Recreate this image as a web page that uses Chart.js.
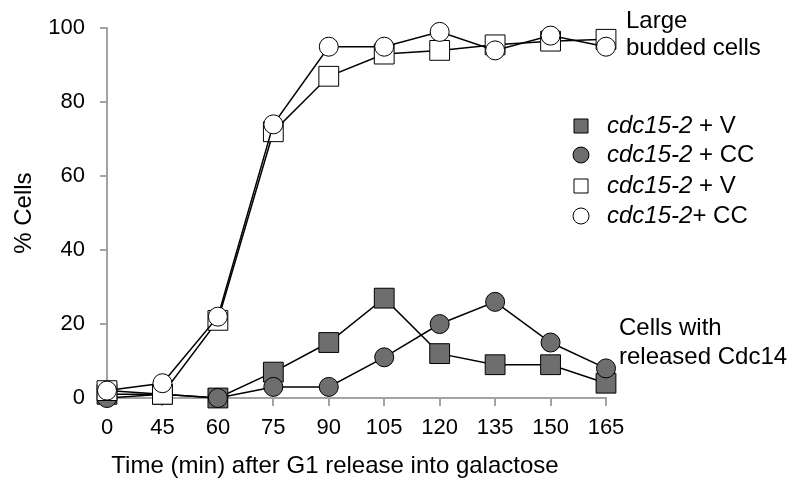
<!DOCTYPE html>
<html>
<head>
<meta charset="utf-8">
<script src="https://cdn.jsdelivr.net/npm/chart.js@4.4.0/dist/chart.umd.min.js"></script>
<style>
  body { margin: 0; background: #fff; }
</style>
</head>
<body>
<canvas id="myChart" width="792" height="481"></canvas>
<script>
const timeLabels = ["0","45","60","75","90","105","120","135","150","165"];

// cells with released Cdc14
const vReleased = [1, 1, 0, 7, 15, 27, 12, 9, 9, 4];
const ccReleased = [0, 1, 0, 3, 3, 11, 20, 26, 15, 8];
// large budded cells
const vBudded = [2, 1, 21, 72, 87, 93, 94, 95.5, 96.5, 97];
const ccBudded = [2, 4, 22, 74, 95, 95, 99, 94, 98, 95];

const fontFam = "'Liberation Sans', Arial, sans-serif";
const grayFill = "#6e6e6e";
const axisGray = "#a3a3a3";

const legendRows = [
  { italic: "cdc15-2", rest: " + V", shape: "rect", fill: grayFill, y: 126 },
  { italic: "cdc15-2", rest: " + CC", shape: "circle", fill: grayFill, y: 155 },
  { italic: "cdc15-2", rest: " + V", shape: "rect", fill: "#fff", y: 186 },
  { italic: "cdc15-2", rest: "+ CC", shape: "circle", fill: "#fff", y: 216 }
];

const extras = {
  id: "extras",
  afterDraw(chart) {
    const ctx = chart.ctx;
    ctx.save();
    ctx.fillStyle = "#000";
    ctx.textBaseline = "middle";
    ctx.textAlign = "left";
    ctx.font = "24px " + fontFam;
    // annotations
    ctx.fillText("Large", 626, 21);
    ctx.fillText("budded cells", 626, 48);
    ctx.fillText("Cells with", 619, 328);
    ctx.fillText("released Cdc14", 619, 357);
    // x title
    ctx.textAlign = "center";
    ctx.fillText("Time (min) after G1 release into galactose", 335, 466);
    // legend
    ctx.textAlign = "left";
    legendRows.forEach(r => {
      ctx.beginPath();
      if (r.shape === "rect") {
        ctx.rect(574, r.y - 7, 14, 14);
      } else {
        ctx.arc(581, r.y, 8, 0, Math.PI * 2);
      }
      ctx.fillStyle = r.fill;
      ctx.fill();
      ctx.lineWidth = 1;
      ctx.strokeStyle = "#000";
      ctx.stroke();
      ctx.fillStyle = "#000";
      ctx.font = "italic 24px " + fontFam;
      ctx.fillText(r.italic, 607, r.y);
      const w = ctx.measureText(r.italic).width;
      ctx.font = "24px " + fontFam;
      ctx.fillText(r.rest, 607 + w, r.y);
    });
    ctx.restore();
  }
};

function series(data, style, fill, order) {
  return {
    data: data,
    borderColor: "#000",
    borderWidth: 1.5,
    pointStyle: style,
    pointRadius: style === "rect" ? 14 : 9.5,
    pointBackgroundColor: fill,
    pointBorderColor: "#000",
    pointBorderWidth: 1,
    fill: false,
    tension: 0,
    clip: false,
    order: order
  };
}

new Chart("myChart", {
  type: "line",
  data: {
    labels: timeLabels,
    datasets: [
      series(vReleased, "rect", grayFill, 3),
      series(ccReleased, "circle", grayFill, 2),
      series(vBudded, "rect", "#fff", 1),
      series(ccBudded, "circle", "#fff", 0)
    ]
  },
  options: {
    responsive: false,
    animation: false,
    layout: { padding: { left: 0, right: 186, top: 28, bottom: 0 } },
    plugins: {
      legend: { display: false },
      tooltip: { enabled: false }
    },
    scales: {
      x: {
        offset: false,
        grid: { drawOnChartArea: false, tickLength: 8, color: axisGray, lineWidth: 2 },
        border: { color: axisGray, width: 2 },
        ticks: { color: "#000", font: { size: 22, family: fontFam }, padding: 9, maxRotation: 0, autoSkip: false },
        afterFit: s => { s.height = 83; }
      },
      y: {
        min: 0,
        max: 100,
        grid: { drawOnChartArea: false, tickLength: 7, color: axisGray, lineWidth: 2 },
        border: { color: axisGray, width: 2 },
        ticks: { stepSize: 20, color: "#000", font: { size: 22, family: fontFam }, padding: 15 },
        title: { display: true, text: "% Cells", color: "#000", font: { size: 24, family: fontFam }, padding: { top: 10 } },
        afterFit: s => { s.width = 107; }
      }
    }
  },
  plugins: [extras]
});
</script>
</body>
</html>
